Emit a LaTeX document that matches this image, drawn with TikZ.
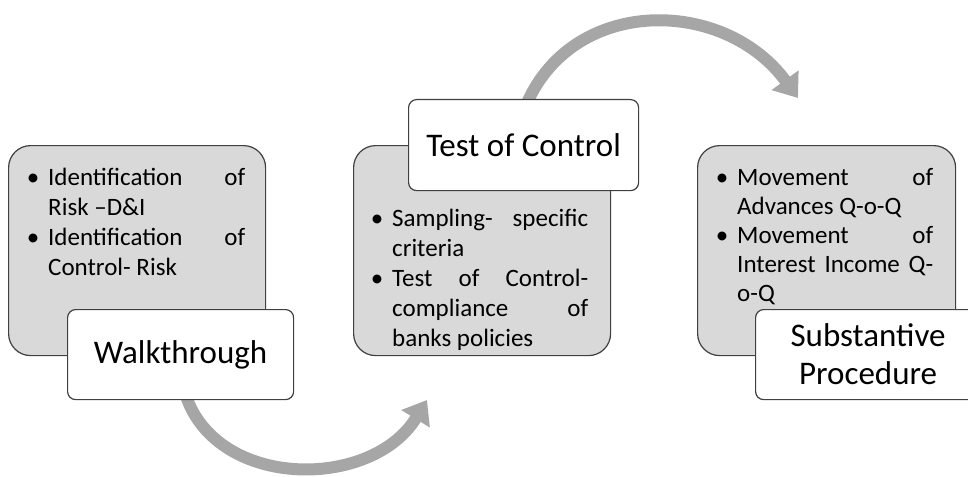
\documentclass[tikz,border=0pt]{standalone}
\usepackage{fontspec}
\setmainfont{Carlito}
\usetikzlibrary{arrows.meta}
\definecolor{boxgray}{RGB}{217,217,217}
\definecolor{arrowgray}{RGB}{166,166,166}
\definecolor{edgegray}{RGB}{64,64,64}
\newcommand\bul{\llap{\textbullet\hspace{9pt}}}
\begin{document}
\begin{tikzpicture}[x=1pt,y=-1pt,
 graybox/.style={draw=edgegray, line width=1.2pt, fill=boxgray, rounded corners=22pt, inner sep=0pt, anchor=north west},
 titlebox/.style={draw=edgegray, line width=1.2pt, fill=white, rounded corners=8pt, inner sep=0pt, anchor=north west, align=center, font=\fontsize{33}{38}\selectfont},
 bodytext/.style={anchor=base west, inner sep=0pt, align=left, font=\fontsize{25}{30}\selectfont},
 flow/.style={draw=arrowgray, line width=12pt, -{Triangle[width=32pt,length=22pt]}}]
\useasboundingbox (0,0) rectangle (968,476);
% coordinates for arrow ends
\coordinate (e1) at (427,400);
\coordinate (e2) at (798,98);
% gray boxes
\node[graybox, minimum width=257pt, minimum height=210pt] (g1) at (8,145) {};
\node[graybox, minimum width=257pt, minimum height=210pt] (g2) at (353,145) {};
\node[graybox, minimum width=258pt, minimum height=210pt] (g3) at (697,145) {};
% body texts (anchored at the baseline of their last line)
\node[bodytext] (b1) at (48,275) {\bul\makebox[197pt][s]{Identification of}\\Risk –D\&I\\\bul\makebox[197pt][s]{Identification of}\\Control- Risk};
\node[bodytext] (b2) at (392,346) {\bul\makebox[196pt][s]{Sampling- specific}\\criteria\\\bul\makebox[196pt][s]{Test of Control-}\\\makebox[196pt][s]{compliance of}\\banks policies};
\node[bodytext, font=\fontsize{25}{29}\selectfont] (b3) at (737,301) {\bul\makebox[196pt][s]{Movement of}\\Advances Q-o-Q\\\bul\makebox[196pt][s]{Movement of}\\\makebox[196pt][s]{Interest Income Q-}\\o-Q};
% arrows (drawn before title boxes so that their start is covered)
\coordinate (s1) at (186,396);
\coordinate (s2) at (527,103);
\draw[flow] (s1) .. controls (218,490) and (372,490) .. (e1);
\draw[flow] (s2) .. controls (575,-5) and (725,-2) .. (e2);
% title boxes
\node[titlebox, minimum width=226pt, minimum height=90pt] (t1) at (67,309) {Walkthrough};
\node[titlebox, minimum width=230pt, minimum height=91pt] (t2) at (408,99) {Test of Control};
\node[titlebox, minimum width=225pt, minimum height=90pt] (t3) at (755,309) {Substantive\\Procedure};
\end{tikzpicture}
\end{document}
